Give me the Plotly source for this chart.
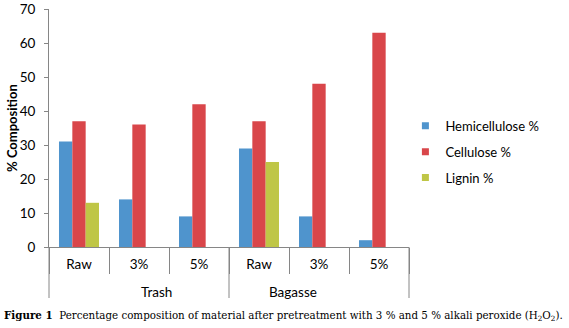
import plotly.graph_objects as go

groups = ["Trash", "Trash", "Trash", "Bagasse", "Bagasse", "Bagasse"]
treatments = ["Raw", "3%", "5%", "Raw", "3%", "5%"]
hemicellulose = [31, 14, 9, 29, 9, 2]
cellulose = [37, 36, 42, 37, 48, 63]
lignin = [13, None, None, 25, None, None]
group_names = ["Trash", "Bagasse"]

series = [
    ("Hemicellulose %", hemicellulose, "#4f94cd"),
    ("Cellulose %", cellulose, "#d9464a"),
    ("Lignin %", lignin, "#bfc646"),
]

keys = [g + " " + t for g, t in zip(groups, treatments)]

fig = go.Figure()
for name, vals, color in series:
    fig.add_trace(go.Bar(
        x=keys, y=vals, name=name,
        marker=dict(color=color, line=dict(width=0)),
        showlegend=False,
    ))
for name, vals, color in series:
    fig.add_trace(go.Scatter(
        x=[None], y=[None], mode="markers", name=name,
        marker=dict(symbol="square", size=7, color=color),
        legendgroup=name,
    ))

AX = "#868686"
fig.update_layout(
    width=569, height=328,
    margin=dict(l=49, r=160, t=9, b=81, autoexpand=False),
    paper_bgcolor="white", plot_bgcolor="white",
    barmode="group", bargap=0.333, bargroupgap=0,
    font=dict(family="Lato, Open Sans, sans-serif", size=13.5, color="#000000"),
    showlegend=True,
    legend=dict(x=0.99, y=0.40, xanchor="left", yanchor="middle",
                font=dict(size=13), traceorder="grouped", tracegroupgap=6,
                itemwidth=30, bgcolor="rgba(0,0,0,0)"),
    xaxis=dict(
        type="category", categoryorder="array", categoryarray=keys,
        tickmode="array", tickvals=keys, ticktext=treatments,
        showline=True, linecolor=AX, linewidth=1,
        ticks="outside", tickson="boundaries", ticklen=26, tickcolor=AX,
        showgrid=False, automargin=False, ticklabelstandoff=5,
    ),
    yaxis=dict(
        range=[0, 70], dtick=10, showline=True, linecolor=AX, linewidth=1,
        ticks="outside", ticklen=4, tickcolor=AX, showgrid=False,
        zeroline=False, automargin=False, ticklabelstandoff=6,
    ),
)

# y-axis title
fig.add_annotation(xref="paper", yref="paper", x=-0.103, y=0.5, textangle=-90,
                   xanchor="center", yanchor="middle", showarrow=False,
                   text="<b>% Composition</b>", font=dict(size=13))

# long group dividers at left, middle, right of the category axis
for xp in [0, 0.5, 1]:
    fig.add_shape(type="line", xref="paper", yref="paper", x0=xp, x1=xp,
                  y0=0, y1=-51 / 238, line=dict(color=AX, width=1))

for i, g in enumerate(group_names):
    fig.add_annotation(xref="paper", yref="paper", x=0.25 + 0.5 * i, y=-45 / 238,
                       yanchor="middle", showarrow=False, text=g,
                       font=dict(size=13.5))

fig.add_annotation(
    xref="paper", yref="paper", x=-0.131, y=-69 / 238, xanchor="left", yanchor="middle",
    showarrow=False, align="left",
    text="<b>Figure 1</b>  Percentage composition of material after pretreatment with 3 % and 5 % alkali peroxide (H<sub>2</sub>O<sub>2</sub>).",
    font=dict(family="DejaVu Serif, serif", size=10.3, color="#000000"),
)

fig.write_html("out.html", config={"displayModeBar": False},
               post_script="document.body.style.margin='0';")
